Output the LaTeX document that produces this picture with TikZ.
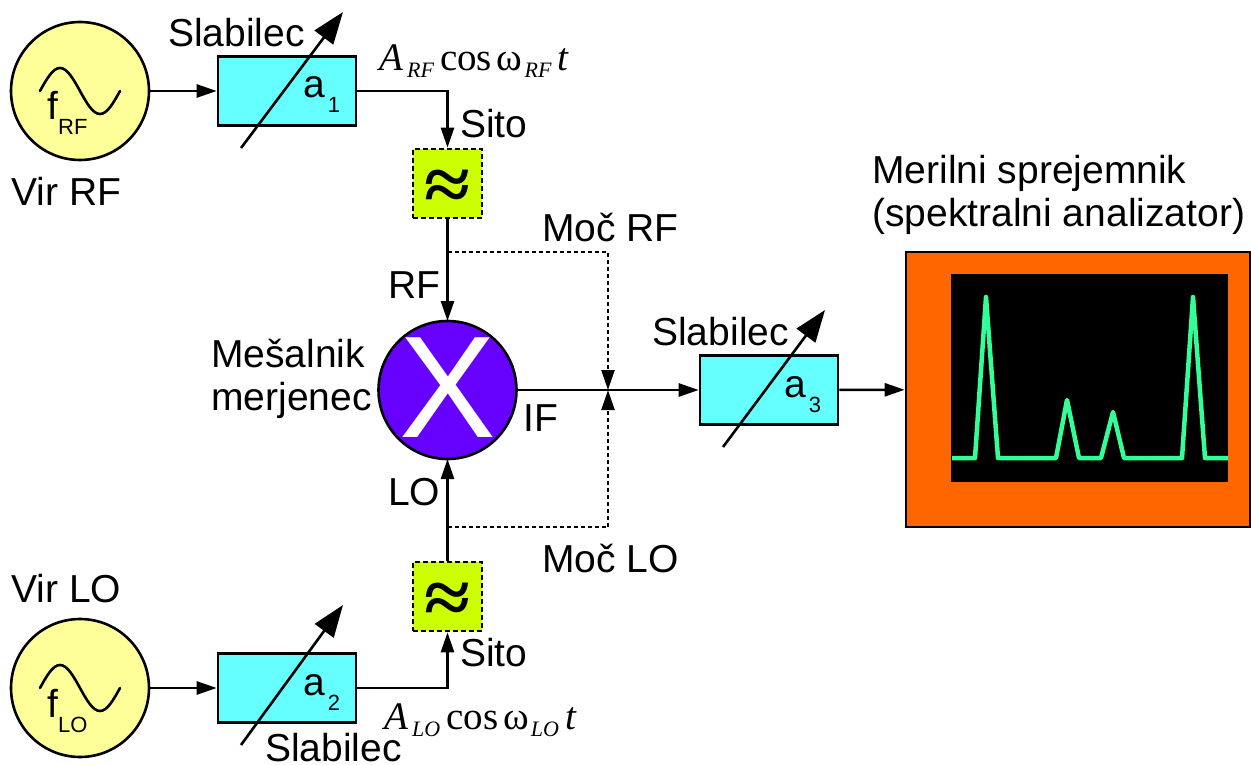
\documentclass[tikz,border=0pt]{standalone}
\usepackage{fontspec}
\setmainfont{Liberation Sans}
\newfontfamily\serifm{Liberation Serif}
\usetikzlibrary{shapes,arrows.meta}
\newcommand{\labelfont}{\fontsize{39}{44}\selectfont}
\newcommand{\subtxt}[1]{\raisebox{-15pt}{\fontsize{22}{22}\selectfont #1}}
\newcommand{\subserif}[1]{\raisebox{-7pt}{\fontsize{22}{22}\selectfont\itshape #1}}
\newcommand{\sigterm}[1]{{\serifm\fontsize{39}{44}\selectfont\itshape A\kern4pt\subserif{#1}\kern6pt\upshape cos\kern5pt ω\kern2pt\subserif{#1}\kern6pt\itshape t}}
\tikzstyle{atten} = [draw, fill={rgb,255:red,102;green,255;blue,255}, rectangle, line width=2.6pt, minimum height=69pt, minimum width=138pt, inner sep=0pt]
\tikzstyle{filt} = [draw, fill={rgb,255:red,204;green,255;blue,0}, rectangle, line width=2.6pt, dash pattern=on 5pt off 3pt, minimum height=69pt, minimum width=69pt, inner sep=0pt]
\tikzstyle{src} = [draw, fill={rgb,255:red,255;green,255;blue,153}, circle, line width=2.6pt, minimum size=138pt, inner sep=0pt]
\tikzstyle{mix} = [draw, fill={rgb,255:red,102;green,0;blue,255}, circle, line width=2.6pt, minimum size=138pt, inner sep=0pt, outer sep=0pt]
\tikzstyle{lbl} = [inner sep=0pt, anchor=base west, font=\labelfont]
\tikzstyle{power} = [->, line width=2.4pt, dash pattern=on 4pt off 3pt]
\tikzstyle{tune} = [-{Triangle[length=32pt,width=23pt]}, line width=2.6pt]
\tikzstyle{wave} = [line width=2.6pt, line cap=round]
\tikzstyle{approxsign} = [inner sep=0pt, font=\serifm\bfseries\fontsize{76}{76}\selectfont]

\begin{document}
\begin{tikzpicture}[x=1pt,y=-1pt,>={Triangle[length=20pt,width=13pt]},line width=2.6pt,node distance=207pt]
    \useasboundingbox (0,0) rectangle (1251,765);

    \node [src, name = srcRF] at (80,91) {};
    \node [src, name = srcLO] at (80,688) {};
    \node [atten, right of = srcRF, name = att1] {};
    \node [atten, right of = srcLO, name = att2] {};
    \node [atten, name = att3] at (769,390) {};
    \node [filt, name = filt1] at (447.5,183.5) {};
    \node [filt, name = filt2] at (447.5,596.5) {};
    \node [mix, name = mixer] at (447.5,390) {};
    \node [draw, fill={rgb,255:red,255;green,102;blue,0}, rectangle, line width=2.6pt, minimum width=344pt, minimum height=275pt, name = analyzer] at (1078,389.5) {};
    \node [fill=black, rectangle, inner sep=0pt, minimum width=277pt, minimum height=208pt, name = screen] at (1089.5,378) {};

    \node [inner sep=0pt, text=white, font=\fontsize{145}{145}\selectfont, name = mixX] at (447.5,388) {X};
    \node [approxsign, name = wave1] at (447.5,190) {\scalebox{1.1}[1]{≈}};
    \node [approxsign, name = wave2] at (447.5,603) {\scalebox{1.1}[1]{≈}};

    \node [lbl, name = fRF] at (46,120) {f\subtxt{RF}};
    \node [lbl, name = fLO] at (46,717) {f\subtxt{LO}};
    \node [lbl, name = a1] at (302,98) {a\kern3pt\subtxt{1}};
    \node [lbl, name = a2] at (302,695) {a\kern3pt\subtxt{2}};
    \node [lbl, name = a3] at (783,397) {a\kern3pt\subtxt{3}};

    \node [lbl, name = virRF] at (10,205) {Vir RF};
    \node [lbl, name = virLO] at (10,602) {Vir LO};
    \node [lbl, name = slab1] at (167,47) {Slabilec};
    \node [lbl, name = slab2] at (264,761) {Slabilec};
    \node [lbl, name = slab3] at (651,345) {Slabilec};
    \node [lbl, name = sito1] at (459,138) {Sito};
    \node [lbl, name = sito2] at (459,666) {Sito};
    \node [lbl, name = mocRF] at (541,241) {Moč RF};
    \node [lbl, name = mocLO] at (541,572) {Moč LO};
    \node [lbl, name = lblRF] at (387,298) {RF};
    \node [lbl, name = lblLO] at (387,505) {LO};
    \node [lbl, name = lblIF] at (522,431) {IF};
    \node [lbl, name = mes] at (210,367) {Mešalnik};
    \node [lbl, name = mer] at (210,410) {merjenec};
    \node [lbl, name = rec1] at (871,184) {Merilni sprejemnik};
    \node [lbl, name = rec2] at (871,226) {(spektralni analizator)};
    \node [inner sep=0pt, anchor=base west, name = sigRF] at (378,71) {\sigterm{RF}};
    \node [inner sep=0pt, anchor=base west, name = sigLO] at (383,729) {\sigterm{LO}};

    \coordinate (tapRF) at (447.5,252);
    \coordinate (tapLO) at (447.5,527);
    \coordinate (sum) at (608,390);
    \coordinate (tune1a) at (241,148);
    \coordinate (tune1b) at (343,12);
    \coordinate (tune2a) at (241,745);
    \coordinate (tune2b) at (343,605);
    \coordinate (tune3a) at (723,447);
    \coordinate (tune3b) at (825,310);

    \draw [wave] (40,91) sin (60,68) cos (80,91) sin (100,114) cos (120,91);
    \draw [wave] (40,688) sin (60,665) cos (80,688) sin (100,711) cos (120,688);

    \draw [tune] (tune1a) -- (tune1b);
    \draw [tune] (tune2a) -- (tune2b);
    \draw [tune] (tune3a) -- (tune3b);

    \draw [->] (srcRF) -- (att1);
    \draw [->] (srcLO) -- (att2);
    \draw [->] (att1) -| (filt1);
    \draw [->] (att2) -| (filt2);
    \draw [->] (filt1) -- (mixer);
    \draw [->] (filt2) -- (mixer);
    \draw [->] (mixer) -- (att3);
    \draw [->] (att3) -- (analyzer);
    \draw [power] (tapRF) -| (sum);
    \draw [power] (tapLO) -| (sum);

    \draw [line width=4.5pt, line join=round, color={rgb,255:red,51;green,255;blue,153}]
        (952,458) -- (975,458) -- (986,297) -- (998,458) -- (1056,458) -- (1067,400) -- (1079,458)
        -- (1101,458) -- (1113,412) -- (1124,458) -- (1182,458) -- (1193,297) -- (1205,458) -- (1228,458);
\end{tikzpicture}
\end{document}
